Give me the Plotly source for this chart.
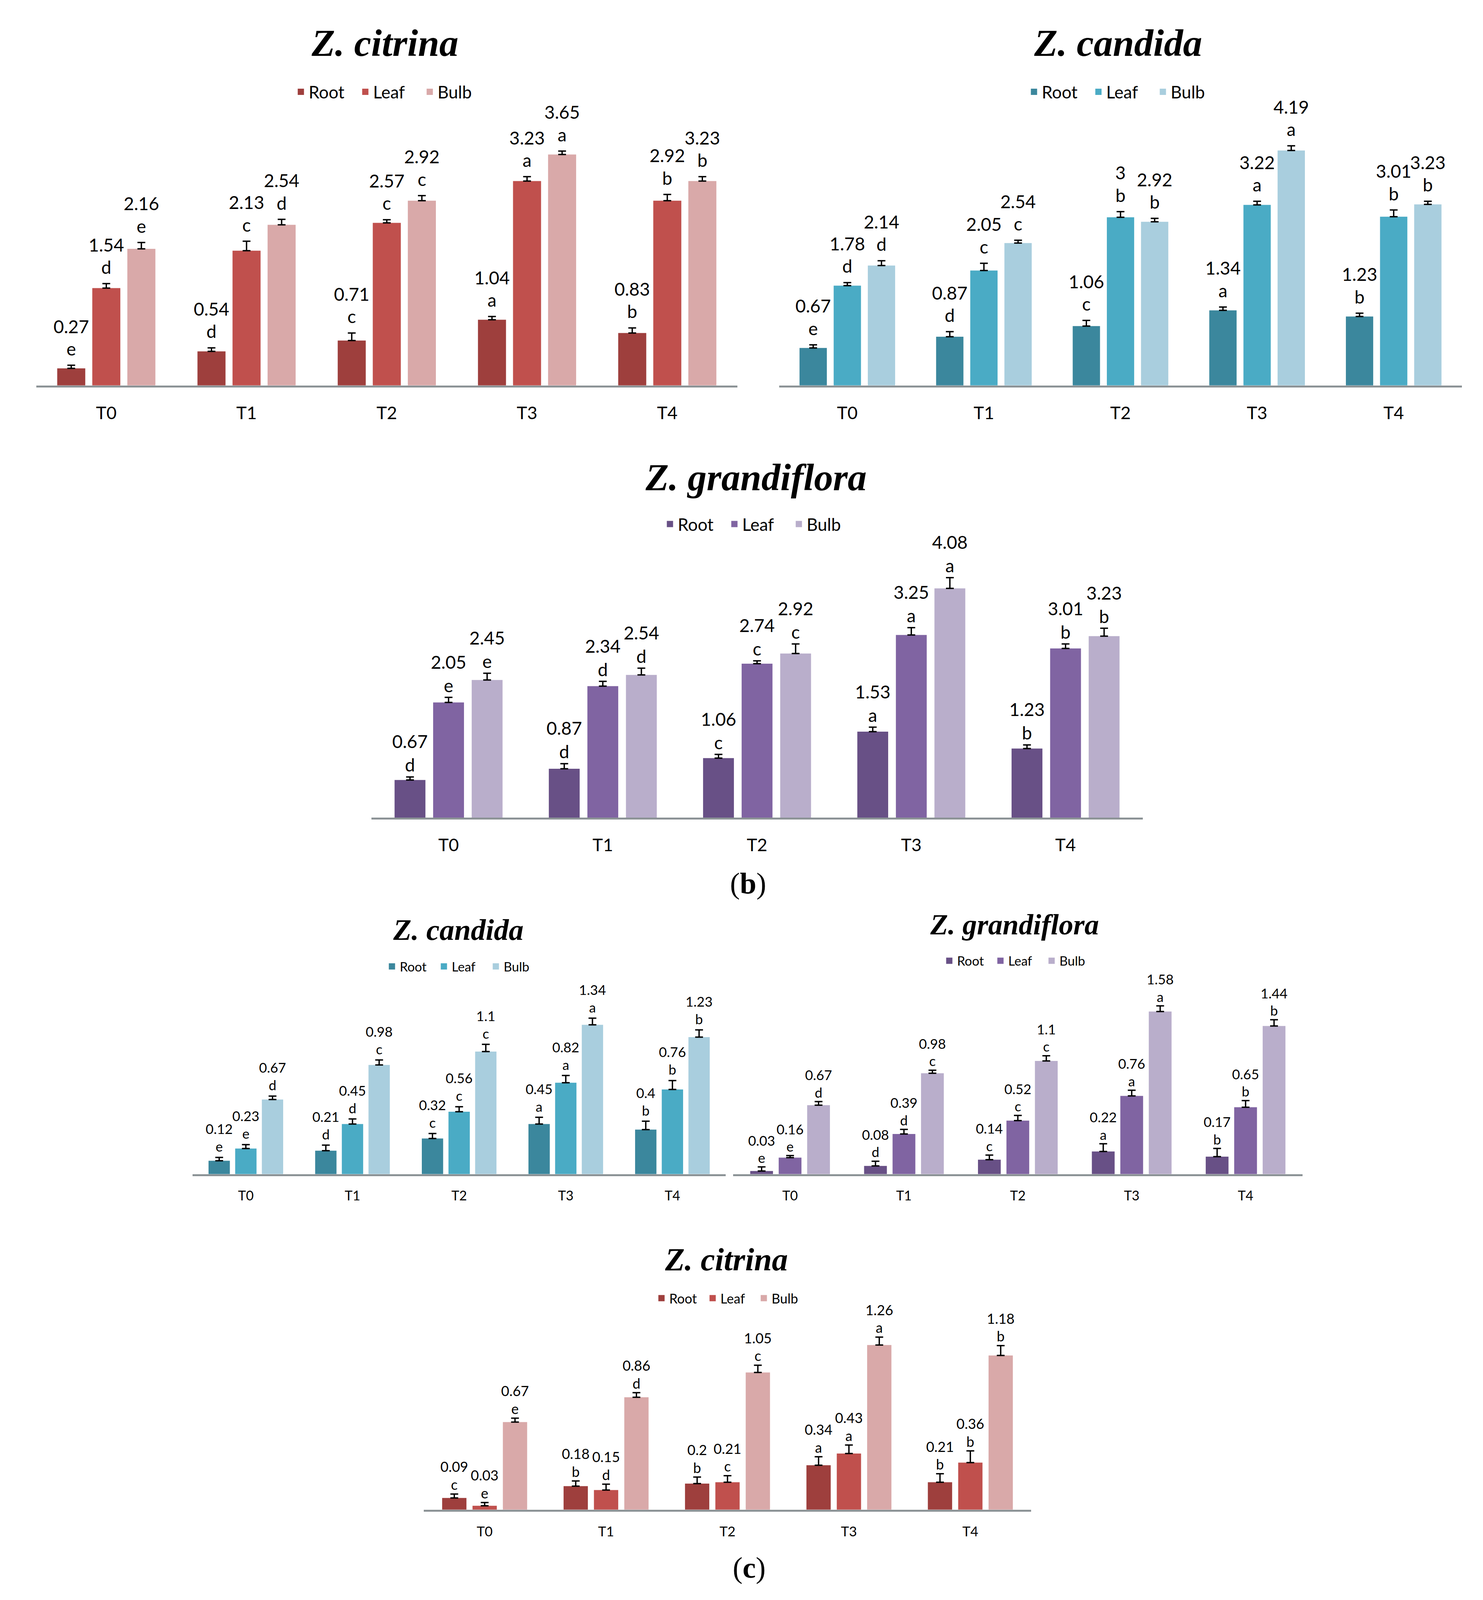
import plotly.graph_objects as go

W, H = 3797, 4735

TREATMENTS = ["T0", "T1", "T2", "T3", "T4"]
ORGANS = ["Root", "Leaf", "Bulb"]

# --- (b) Z. citrina ---
b_citrina_root = [0.27, 0.54, 0.71, 1.04, 0.83]
b_citrina_leaf = [1.54, 2.13, 2.57, 3.23, 2.92]
b_citrina_bulb = [2.16, 2.54, 2.92, 3.65, 3.23]
b_citrina_root_err = [0.05, 0.055, 0.12, 0.05, 0.08]
b_citrina_leaf_err = [0.07, 0.15, 0.05, 0.07, 0.10]
b_citrina_bulb_err = [0.10, 0.085, 0.08, 0.055, 0.07]
b_citrina_root_sig = ["e", "d", "c", "a", "b"]
b_citrina_leaf_sig = ["d", "c", "c", "a", "b"]
b_citrina_bulb_sig = ["e", "d", "c", "a", "b"]

# --- (b) Z. candida ---
b_candida_root = [0.67, 0.87, 1.06, 1.34, 1.23]
b_candida_leaf = [1.78, 2.05, 3, 3.22, 3.01]
b_candida_bulb = [2.14, 2.54, 2.92, 4.19, 3.23]
b_candida_root_err = [0.055, 0.09, 0.10, 0.06, 0.06]
b_candida_leaf_err = [0.055, 0.13, 0.10, 0.065, 0.12]
b_candida_bulb_err = [0.085, 0.05, 0.06, 0.085, 0.055]
b_candida_root_sig = ["e", "d", "c", "a", "b"]
b_candida_leaf_sig = ["d", "c", "b", "a", "b"]
b_candida_bulb_sig = ["d", "c", "b", "a", "b"]

# --- (b) Z. grandiflora ---
b_grandiflora_root = [0.67, 0.87, 1.06, 1.53, 1.23]
b_grandiflora_leaf = [2.05, 2.34, 2.74, 3.25, 3.01]
b_grandiflora_bulb = [2.45, 2.54, 2.92, 4.08, 3.23]
b_grandiflora_root_err = [0.055, 0.09, 0.065, 0.08, 0.065]
b_grandiflora_leaf_err = [0.09, 0.085, 0.05, 0.13, 0.08]
b_grandiflora_bulb_err = [0.12, 0.12, 0.17, 0.19, 0.14]
b_grandiflora_root_sig = ["d", "d", "c", "a", "b"]
b_grandiflora_leaf_sig = ["e", "d", "c", "a", "b"]
b_grandiflora_bulb_sig = ["e", "d", "c", "a", "b"]

# --- (c) Z. candida ---
c_candida_root = [0.12, 0.21, 0.32, 0.45, 0.4]
c_candida_leaf = [0.23, 0.45, 0.56, 0.82, 0.76]
c_candida_bulb = [0.67, 0.98, 1.1, 1.34, 1.23]
c_candida_root_err = [0.03, 0.05, 0.045, 0.06, 0.075]
c_candida_leaf_err = [0.035, 0.045, 0.045, 0.065, 0.08]
c_candida_bulb_err = [0.03, 0.045, 0.065, 0.06, 0.065]
c_candida_root_sig = ["e", "d", "c", "a", "b"]
c_candida_leaf_sig = ["e", "d", "c", "a", "b"]
c_candida_bulb_sig = ["d", "c", "c", "a", "b"]

# --- (c) Z. grandiflora ---
c_grandiflora_root = [0.03, 0.08, 0.14, 0.22, 0.17]
c_grandiflora_leaf = [0.16, 0.39, 0.52, 0.76, 0.65]
c_grandiflora_bulb = [0.67, 0.98, 1.1, 1.58, 1.44]
c_grandiflora_root_err = [0.04, 0.045, 0.045, 0.075, 0.08]
c_grandiflora_leaf_err = [0.02, 0.045, 0.05, 0.055, 0.065]
c_grandiflora_bulb_err = [0.035, 0.03, 0.05, 0.055, 0.06]
c_grandiflora_root_sig = ["e", "d", "c", "a", "b"]
c_grandiflora_leaf_sig = ["e", "d", "c", "a", "b"]
c_grandiflora_bulb_sig = ["d", "c", "c", "a", "b"]

# --- (c) Z. citrina ---
c_citrina_root = [0.09, 0.18, 0.2, 0.34, 0.21]
c_citrina_leaf = [0.03, 0.15, 0.21, 0.43, 0.36]
c_citrina_bulb = [0.67, 0.86, 1.05, 1.26, 1.18]
c_citrina_root_err = [0.03, 0.04, 0.05, 0.065, 0.065]
c_citrina_leaf_err = [0.025, 0.045, 0.05, 0.065, 0.09]
c_citrina_bulb_err = [0.03, 0.035, 0.055, 0.06, 0.075]
c_citrina_root_sig = ["c", "b", "b", "a", "b"]
c_citrina_leaf_sig = ["e", "d", "c", "a", "b"]
c_citrina_bulb_sig = ["e", "d", "c", "a", "b"]

REDS = ["#9E3F3D", "#C0504D", "#D9A9A9"]
BLUES = ["#3B879D", "#4AABC5", "#A9CEDE"]
PURPLES = ["#685086", "#8064A2", "#B9AECB"]

FONT = "Lato"
SERIF = "Liberation Serif"

# plot area in reference pixels: left, right, axis line y, pixels per unit
# lpad / vpad: gap (px) between error cap and letter / value label
PANELS = [
    dict(title="Z. citrina", colors=REDS, box=(85, 1888, 1136, 188.0), ymax=4.0,
         title_xy=(982, 118), legend_xy=(994, 264), tsize=98, fsize=46,
         lpad=10, vpad=56, entry=120,
         values=[b_citrina_root, b_citrina_leaf, b_citrina_bulb],
         errors=[b_citrina_root_err, b_citrina_leaf_err, b_citrina_bulb_err],
         sigs=[b_citrina_root_sig, b_citrina_leaf_sig, b_citrina_bulb_sig]),
    dict(title="Z. candida", colors=BLUES, box=(1995, 3751, 1136, 166.6), ymax=4.5,
         title_xy=(2867, 118), legend_xy=(2879, 264), tsize=98, fsize=46,
         lpad=10, vpad=56, entry=120,
         values=[b_candida_root, b_candida_leaf, b_candida_bulb],
         errors=[b_candida_root_err, b_candida_leaf_err, b_candida_bulb_err],
         sigs=[b_candida_root_sig, b_candida_leaf_sig, b_candida_bulb_sig]),
    dict(title="Z. grandiflora", colors=PURPLES, box=(947, 2930, 2420, 167.0), ymax=4.5,
         title_xy=(1936, 1410), legend_xy=(1943, 1548), tsize=97, fsize=46,
         lpad=1, vpad=49, entry=120,
         values=[b_grandiflora_root, b_grandiflora_leaf, b_grandiflora_bulb],
         errors=[b_grandiflora_root_err, b_grandiflora_leaf_err, b_grandiflora_bulb_err],
         sigs=[b_grandiflora_root_sig, b_grandiflora_leaf_sig, b_grandiflora_bulb_sig]),
    dict(title="Z. candida", colors=BLUES, box=(487, 1858, 3479, 331.0), ymax=1.5,
         title_xy=(1170, 2753), legend_xy=(1180, 2862), tsize=76, fsize=35,
         lpad=4, vpad=40, entry=88,
         values=[c_candida_root, c_candida_leaf, c_candida_bulb],
         errors=[c_candida_root_err, c_candida_leaf_err, c_candida_bulb_err],
         sigs=[c_candida_root_sig, c_candida_leaf_sig, c_candida_bulb_sig]),
    dict(title="Z. grandiflora", colors=PURPLES, box=(1877, 3341, 3479, 305.7), ymax=1.75,
         title_xy=(2600, 2738), legend_xy=(2610, 2845), tsize=74, fsize=35,
         lpad=0, vpad=36, entry=86,
         values=[c_grandiflora_root, c_grandiflora_leaf, c_grandiflora_bulb],
         errors=[c_grandiflora_root_err, c_grandiflora_leaf_err, c_grandiflora_bulb_err],
         sigs=[c_grandiflora_root_sig, c_grandiflora_leaf_sig, c_grandiflora_bulb_sig]),
    dict(title="Z. citrina", colors=REDS, box=(1082, 2643, 4476, 388.4), ymax=1.45,
         title_xy=(1859, 3733), legend_xy=(1870, 3848), tsize=82, fsize=36,
         lpad=0, vpad=37, entry=86,
         values=[c_citrina_root, c_citrina_leaf, c_citrina_bulb],
         errors=[c_citrina_root_err, c_citrina_leaf_err, c_citrina_bulb_err],
         sigs=[c_citrina_root_sig, c_citrina_leaf_sig, c_citrina_bulb_sig]),
]

OFFSETS = [-0.25, 0.0, 0.25]
BAR_W = 0.2


def px_x(x):
    return x / W


def px_y(y):
    return 1 - y / H


def label_trace(xs, ys, texts, size, pad, xa, ya):
    # text sitting above the error cap; the invisible marker sets the gap
    return go.Scatter(
        x=xs, y=ys, mode="markers+text", textposition="top center", text=texts,
        textfont=dict(family=FONT, size=size, color="black"),
        marker=dict(size=max(2 * pad, 1), opacity=0), cliponaxis=False,
        xaxis=xa, yaxis=ya, showlegend=False, hoverinfo="skip",
    )


fig = go.Figure()
layout = {}
annotations = []

for n, p in enumerate(PANELS, start=1):
    sfx = "" if n == 1 else str(n)
    xa, ya = "x" + sfx, "y" + sfx
    leg = "legend" + sfx
    left, right, bottom, scale = p["box"]
    top = bottom - p["ymax"] * scale

    for k, organ in enumerate(ORGANS):
        xs = [i + OFFSETS[k] for i in range(len(TREATMENTS))]
        vals = p["values"][k]
        errs = p["errors"][k]
        fig.add_trace(go.Bar(
            x=xs, y=vals, width=BAR_W, name=organ, showlegend=False,
            marker=dict(color=p["colors"][k], line=dict(width=0)),
            error_y=dict(type="data", symmetric=False, array=errs,
                         arrayminus=[0] * len(vals), color="black",
                         thickness=3.5, width=10),
            xaxis=xa, yaxis=ya, hoverinfo="skip",
        ))
        tops = [v + e for v, e in zip(vals, errs)]
        fig.add_trace(label_trace(xs, tops, p["sigs"][k], p["fsize"],
                                  p["lpad"], xa, ya))
        fig.add_trace(label_trace(xs, tops, [f"{v:g}" for v in vals],
                                  p["fsize"], p["vpad"], xa, ya))
        # legend entry (square swatch)
        fig.add_trace(go.Scatter(
            x=[None], y=[None], mode="markers", name=organ,
            marker=dict(symbol="square", size=30, color=p["colors"][k]),
            xaxis=xa, yaxis=ya, legend=leg, hoverinfo="skip",
        ))

    layout["xaxis" + sfx] = dict(
        domain=[px_x(left), px_x(right)], anchor=ya, range=[-0.5, 4.5],
        tickvals=list(range(len(TREATMENTS))), ticktext=TREATMENTS,
        showline=True, linecolor="#8C9396", linewidth=5, ticks="",
        showgrid=False, zeroline=False, ticklabelstandoff=int(p["fsize"] * 0.6),
        tickfont=dict(family=FONT, size=p["fsize"] - 1, color="black"),
        fixedrange=True,
    )
    layout["yaxis" + sfx] = dict(
        domain=[px_y(bottom), px_y(top)], anchor=xa, range=[0, p["ymax"]],
        visible=False, fixedrange=True,
    )
    layout[leg] = dict(
        orientation="h", x=px_x(p["legend_xy"][0]), y=px_y(p["legend_xy"][1]),
        xanchor="center", yanchor="middle", bgcolor="rgba(0,0,0,0)",
        font=dict(family=FONT, size=p["fsize"] - 2, color="black"),
        itemwidth=30, itemsizing="trace", traceorder="normal",
        entrywidth=p["entry"],
    )
    annotations.append(dict(
        text=f"<b><i>{p['title']}</i></b>", xref="paper", yref="paper",
        x=px_x(p["title_xy"][0]), y=px_y(p["title_xy"][1]),
        xanchor="center", yanchor="middle", showarrow=False,
        font=dict(family=SERIF, size=p["tsize"], color="black"),
    ))

for label, (lx, ly) in [("b", (1916, 2615)), ("c", (1918, 4648))]:
    annotations.append(dict(
        text=f"(<b>{label}</b>)", xref="paper", yref="paper",
        x=px_x(lx), y=px_y(ly), xanchor="center", yanchor="middle",
        showarrow=False, font=dict(family=SERIF, size=76, color="black"),
    ))

fig.update_layout(
    autosize=True, barmode="overlay",
    margin=dict(l=0, r=0, t=0, b=0, autoexpand=False),
    paper_bgcolor="white", plot_bgcolor="white",
    annotations=annotations, **layout,
)

# fill the browser window so the whole figure is photographed
fig.write_html("out.html", default_width="100%",
               default_height="calc(100vh - 16px)")
